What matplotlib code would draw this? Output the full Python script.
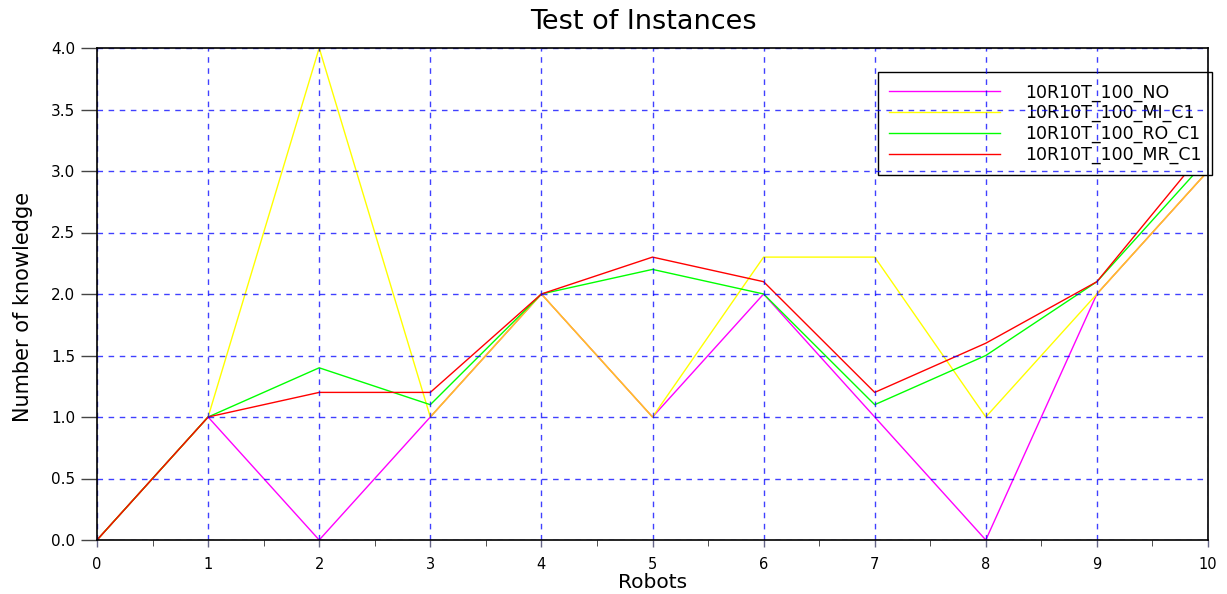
import numpy as np
import matplotlib.pyplot as plt
from matplotlib.ticker import MultipleLocator

plt.rcParams['font.family'] = ['DejaVu Sans']

# data
robots = np.arange(0, 11)
no_c = np.array([0, 1, 0, 1, 2, 1, 2, 1, 0, 2, 3])
mi_c1 = np.array([0, 1, 4, 1, 2, 1, 2.3, 2.3, 1, 2, 3])
ro_c1 = np.array([0, 1, 1.4, 1.1, 2, 2.2, 2.0, 1.1, 1.5, 2.1, 3.1])
mr_c1 = np.array([0, 1, 1.2, 1.2, 2, 2.3, 2.1, 1.2, 1.6, 2.1, 3.2])
labels = ['10R10T_100_NO', '10R10T_100_MI_C1', '10R10T_100_RO_C1', '10R10T_100_MR_C1']

fig = plt.figure(figsize=(12.27, 5.94), dpi=100)
ax = fig.add_axes([97/1227, 54/594, 1111/1227, 492/594])

l1, = ax.plot(robots, no_c, color='#ff00ff', lw=1, zorder=1.0)
l2, = ax.plot(robots, mi_c1, color='#ffff00', lw=1, zorder=1.05)
# where NO and MI overlap the lines look orange
both = np.where(no_c == mi_c1, no_c, np.nan).astype(float)
ax.plot(robots, both, color='#ffb733', lw=1, zorder=1.1)
l3, = ax.plot(robots, ro_c1, color='#00ff00', lw=1, zorder=1.2)
l4, = ax.plot(robots, mr_c1, color='#ff0000', lw=1, zorder=1.3)

ax.set_xlim(0, 10)
ax.set_ylim(0, 4)
ax.xaxis.set_major_locator(MultipleLocator(1))
ax.xaxis.set_minor_locator(MultipleLocator(0.5))
ax.yaxis.set_major_locator(MultipleLocator(0.5))
ax.yaxis.set_major_formatter(lambda v, p: f'{v:.1f}')
ax.tick_params(axis='y', direction='out', labelsize=11, length=11.5, width=1, color='#444444', pad=4)
ax.tick_params(axis='x', direction='out', labelsize=10.5, length=5, width=1, color='#666688', pad=7)
ax.tick_params(axis='x', which='minor', direction='out', length=4, color='#333333')

ax.set_axisbelow(False)
ax.grid(True, which='major', color='#0000ff', linestyle=(0, (4, 4)), lw=1, alpha=0.75)
for s in ax.spines.values():
    s.set_linewidth(1.2)
    s.set_zorder(3)

ax.set_title('Test of Instances', fontsize=19.5, pad=14, x=0.492)
ax.set_xlabel('Robots', fontsize=14.5, labelpad=1)
ax.set_ylabel('Number of knowledge', fontsize=15)
ax.yaxis.set_label_coords(-0.058, 0.474)

leg = ax.legend([l1, l2, l3, l4], labels, loc='upper left',
                bbox_to_anchor=(878/1227, 1 - 72/594), bbox_transform=fig.transFigure,
                fontsize=12.5, frameon=True, fancybox=False, handlelength=6.4,
                handletextpad=1.4, labelspacing=0.15, borderpad=0.65, borderaxespad=0)
leg.get_frame().set_edgecolor('black')
leg.get_frame().set_linewidth(1)
leg.get_frame().set_alpha(1)
leg.set_zorder(2)

plt.savefig('out.png', dpi=100)
